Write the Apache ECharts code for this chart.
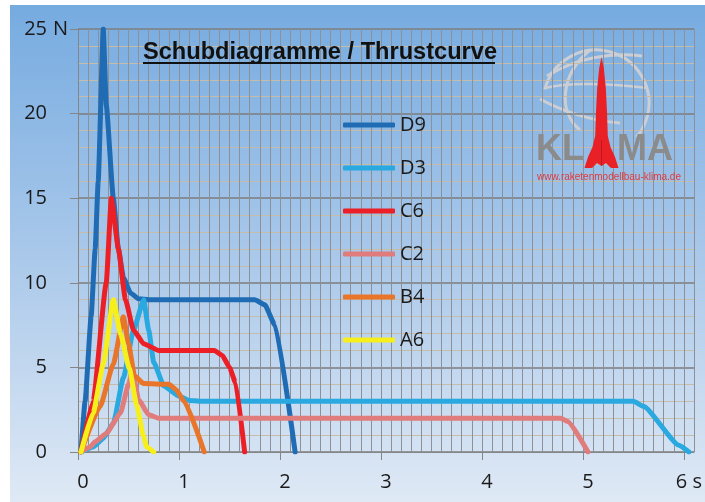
<!DOCTYPE html>
<html>
<head>
<meta charset="utf-8">
<script src="https://cdn.jsdelivr.net/npm/echarts@6/dist/echarts.min.js"></script>
<style>
  html, body { margin: 0; padding: 0; background: #ffffff; }
  #chart { width: 705px; height: 502px; }
</style>
</head>
<body>
<div id="chart"></div>
<script>
// Motor names, in legend order
const motorNames = ['D9', 'D3', 'C6', 'C2', 'B4', 'A6'];

// Thrust curves: [time in s, thrust in N]
const d9 = [[0.03,0],[0.07,3],[0.13,8],[0.17,12],[0.2,16],[0.25,25],[0.28,20.5],[0.35,15],[0.4,12],[0.45,10.3],[0.52,9.4],[0.6,9.05],[0.7,9],[1.75,9],[1.85,8.7],[1.95,7.5],[2.15,0]];
const d3 = [[0.03,0],[0.15,0.3],[0.25,0.8],[0.35,1.7],[0.45,4.4],[0.55,7.2],[0.65,9],[0.7,7.2],[0.75,5.3],[0.85,3.9],[1.0,3.3],[1.1,3.05],[1.2,3],[5.5,3],[5.6,2.7],[5.95,0.4],[6.05,0]];
const c6 = [[0.03,0],[0.15,3],[0.28,10],[0.33,15],[0.4,12],[0.47,9],[0.55,7.2],[0.65,6.4],[0.8,6],[1.35,6],[1.43,5.7],[1.5,5],[1.56,4.1],[1.65,0]];
const c2 = [[0.03,0],[0.12,0.3],[0.17,0.6],[0.28,1.1],[0.42,2.3],[0.5,4],[0.54,4.8],[0.6,3.1],[0.7,2.2],[0.8,2],[4.78,2],[4.85,1.8],[5.05,0]];
const b4 = [[0.03,0],[0.22,2.7],[0.35,5.2],[0.45,8],[0.5,6.4],[0.56,4.5],[0.65,4.05],[0.9,4],[0.97,3.7],[1.05,3],[1.25,0]];
const a6 = [[0.03,0],[0.15,2.3],[0.25,5.2],[0.35,9],[0.42,7],[0.51,4.9],[0.58,2.8],[0.65,0.9],[0.68,0.3],[0.75,0]];

// Axis tick labels
const xTickValues = [0, 1, 2, 3, 4, 5, 6];
const xTickLabels = ['0', '1', '2', '3', '4', '5', '6 s'];
const yTickValues = [0, 5, 10, 15, 20, 25];
const yTickLabels = ['0', '5', '10', '15', '20', '25'];

const curves = [d9, d3, c6, c2, b4, a6];
const colors = ['#1f6cb4', '#2aa9e1', '#ec1f27', '#e07c7c', '#e8752a', '#f7ef1c'];

const FONT = '"Open Sans", "Noto Sans", sans-serif';
const GLOBE = '#cbced4';

const chart = echarts.init(document.getElementById('chart'), null, { renderer: 'canvas' });

const option = {
  animation: false,
  textStyle: { fontFamily: FONT },
  grid: { left: 78, right: 10, top: 29, bottom: 50 },
  legend: {
    data: motorNames,
    orient: 'vertical',
    left: 343,
    top: 115,
    padding: 0,
    itemWidth: 52,
    itemHeight: 5,
    itemGap: 23,
    icon: 'roundRect',
    selectedMode: false,
    textStyle: { fontSize: 20, color: '#1a1a1a', fontFamily: FONT }
  },
  xAxis: [
    {
      type: 'value', min: 0, max: 6.1, interval: 1,
      axisLine: { show: true, onZero: false, lineStyle: { color: '#858585', width: 1 } },
      axisTick: { show: true, inside: false, length: 8, customValues: xTickValues, lineStyle: { color: '#858585' } },
      axisLabel: {
        customValues: xTickValues,
        formatter: v => xTickLabels[xTickValues.indexOf(Math.round(v))] ?? '',
        fontSize: 20, color: '#1a1a1a', margin: 20, padding: [0, 0, 0, 10]
      },
      splitLine: { show: false }
    },
    {
      // fine vertical grid every 0.1 s
      type: 'value', min: 0, max: 6.1, interval: 0.1,
      axisLine: { show: false }, axisTick: { show: false }, axisLabel: { show: false },
      splitLine: { show: true, lineStyle: { color: '#8d9096', width: 1 } }
    }
  ],
  yAxis: {
    type: 'value', min: 0, max: 25, interval: 5,
    axisLine: { show: true, lineStyle: { color: '#858585', width: 1 } },
    axisTick: { show: true, inside: false, length: 8, lineStyle: { color: '#858585' } },
    axisLabel: {
      formatter: v => yTickLabels[yTickValues.indexOf(v)] ?? '',
      fontSize: 20, color: '#1a1a1a', margin: 31
    },
    splitLine: { show: true, lineStyle: { color: '#7d7d7d', width: 1.5 } },
    minorTick: { show: false, splitNumber: 5 },
    minorSplitLine: { show: true, lineStyle: { color: '#c6bcaa', width: 1 } }
  },
  graphic: [
    {
      type: 'rect', z: -100, silent: true,
      shape: { x: 10, y: 5, width: 695, height: 497 },
      style: {
        fill: new echarts.graphic.LinearGradient(0, 0, 0, 1, [
          { offset: 0, color: '#76abe0' },
          { offset: 0.5, color: '#a9c8ea' },
          { offset: 1, color: '#dfe9f5' }
        ])
      }
    },
    // unit on the thrust axis
    { type: 'text', x: 53, y: 29, style: { text: 'N', font: '20px ' + FONT, fill: '#1a1a1a', verticalAlign: 'middle' } },
    // heading, underlined
    { type: 'text', x: 143, y: 52, z: 10,
      style: { text: 'Schubdiagramme / Thrustcurve', font: 'bold 23.6px "Liberation Sans", Arial, sans-serif', fill: '#111', verticalAlign: 'middle' } },
    { type: 'line', z: 10, shape: { x1: 143, y1: 63, x2: 495, y2: 63 }, style: { stroke: '#111', lineWidth: 2 } },
    // KLAMA logo: globe wireframe
    { type: 'group', z: 5, silent: true, children: [
      { type: 'arc', shape: { cx: 596, cy: 103, r: 53, startAngle: 195 * Math.PI / 180, endAngle: 40 * Math.PI / 180, clockwise: true },
        style: { stroke: GLOBE, lineWidth: 3, fill: null } },
      { type: 'bezierCurve', shape: { x1: 590, y1: 50, cpx1: 560, cpy1: 75, cpx2: 558, cpy2: 112, x2: 580, y2: 130 },
        style: { stroke: GLOBE, lineWidth: 3, fill: null } },
      { type: 'bezierCurve', shape: { x1: 547, y1: 76, cpx1: 575, cpy1: 58, cpx2: 612, cpy2: 52, x2: 642, y2: 56 },
        style: { stroke: GLOBE, lineWidth: 3, fill: null } },
      { type: 'bezierCurve', shape: { x1: 540, y1: 99, cpx1: 560, cpy1: 110, cpx2: 590, cpy2: 121, x2: 620, y2: 123 },
        style: { stroke: GLOBE, lineWidth: 3, fill: null } },
      { type: 'bezierCurve', shape: { x1: 545, y1: 88, cpx1: 570, cpy1: 82, cpx2: 612, cpy2: 84, x2: 648, y2: 88 },
        style: { stroke: GLOBE, lineWidth: 2.5, fill: null } }
    ] },
    // KLAMA logo: lettering
    { type: 'text', x: 536, y: 168, z: 6,
      style: { text: 'KL', font: 'bold 36px "Liberation Sans", Arial, sans-serif', fill: '#8b8b8b', verticalAlign: 'bottom' } },
    { type: 'text', x: 617, y: 168, z: 6,
      style: { text: 'MA', font: 'bold 36px "Liberation Sans", Arial, sans-serif', fill: '#8b8b8b', verticalAlign: 'bottom' } },
    // KLAMA logo: rocket
    { type: 'polygon', z: 7, silent: true,
      shape: { points: [
        [601.5, 57], [603.8, 68], [605.8, 88], [607, 112], [607.8, 136], [610.5, 147], [615, 157], [618.5, 168],
        [611, 168], [606, 163], [601.5, 166], [597, 163], [592, 168], [584.5, 168],
        [588, 157], [592.5, 147], [595.2, 136], [596, 112], [597.2, 88], [599.2, 68]
      ] },
      style: { fill: '#ea2027' } },
    { type: 'line', z: 8, shape: { x1: 601.5, y1: 140, x2: 601.5, y2: 166 }, style: { stroke: '#b5141a', lineWidth: 0.8 } },
    { type: 'text', x: 537, y: 177, z: 6,
      style: { text: 'www.raketenmodellbau-klima.de', font: '10px "Liberation Sans", Arial, sans-serif', fill: '#e23a3a', verticalAlign: 'middle' } }
  ],
  series: motorNames.map((name, i) => ({
    name: name,
    type: 'line',
    xAxisIndex: 0,
    data: curves[i],
    showSymbol: false,
    symbol: 'none',
    smooth: 0.15,
    smoothMonotone: 'x',
    color: colors[i],
    lineStyle: { width: 5, color: colors[i], cap: 'round', join: 'round' },
    z: 3 + i
  }))
};

chart.setOption(option);
</script>
</body>
</html>
